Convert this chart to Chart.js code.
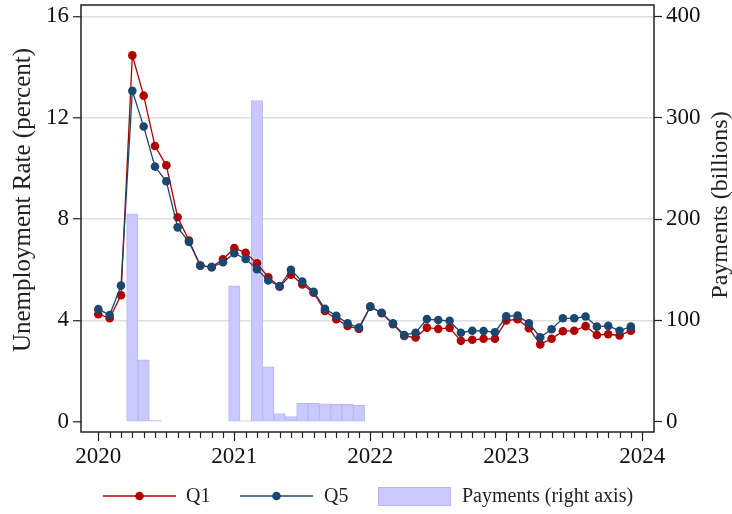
<!DOCTYPE html>
<html>
<head>
<meta charset="utf-8">
<script src="https://cdn.jsdelivr.net/npm/chart.js@4/dist/chart.umd.min.js"></script>
<style>
  html, body { margin: 0; padding: 0; background: #fff; }
  #wrap { width: 732px; height: 514px; }
</style>
</head>
<body>
<div id="wrap"><canvas id="c" width="732" height="514"></canvas></div>
<script>
// Monthly observations, Jan 2020 – Dec 2023
const months = [
  '2020-01','2020-02','2020-03','2020-04','2020-05','2020-06','2020-07','2020-08','2020-09','2020-10','2020-11','2020-12',
  '2021-01','2021-02','2021-03','2021-04','2021-05','2021-06','2021-07','2021-08','2021-09','2021-10','2021-11','2021-12',
  '2022-01','2022-02','2022-03','2022-04','2022-05','2022-06','2022-07','2022-08','2022-09','2022-10','2022-11','2022-12',
  '2023-01','2023-02','2023-03','2023-04','2023-05','2023-06','2023-07','2023-08','2023-09','2023-10','2023-11','2023-12'
];

// Unemployment rate (percent), lowest income quintile
const q1 = [
  4.24, 4.08, 4.99, 14.46, 12.87, 10.88, 10.12, 8.07, 7.15, 6.16, 6.10, 6.41,
  6.85, 6.67, 6.25, 5.70, 5.33, 5.80, 5.42, 5.09, 4.37, 4.04, 3.78, 3.66,
  4.54, 4.28, 3.85, 3.38, 3.32, 3.71, 3.66, 3.70, 3.19, 3.23, 3.27, 3.27,
  3.99, 4.04, 3.69, 3.05, 3.27, 3.57, 3.59, 3.77, 3.42, 3.45, 3.40, 3.59
];

// Unemployment rate (percent), highest income quintile
const q5 = [
  4.44, 4.21, 5.37, 13.06, 11.65, 10.07, 9.49, 7.67, 7.09, 6.16, 6.10, 6.29,
  6.65, 6.42, 6.02, 5.57, 5.35, 5.99, 5.53, 5.13, 4.45, 4.18, 3.88, 3.71,
  4.54, 4.30, 3.88, 3.42, 3.51, 4.05, 4.01, 3.98, 3.51, 3.59, 3.58, 3.53,
  4.16, 4.19, 3.88, 3.33, 3.65, 4.08, 4.08, 4.15, 3.75, 3.78, 3.59, 3.75
];

// Payments (billions of dollars)
const payMonths = ['2020-04','2020-05','2020-06','2021-01','2021-02','2021-03','2021-04','2021-05','2021-06','2021-07','2021-08','2021-09','2021-10','2021-11','2021-12'];
const payments  = [205, 61, 1.5, 134, 1, 317, 54, 8, 5, 18, 18, 17.5, 17, 17, 16];

const yearTicks = [2020, 2021, 2022, 2023, 2024];
const rateTicks = [0, 4, 8, 12, 16];
const payTicks  = [0, 100, 200, 300, 400];

const RED = '#b00000';
const BLUE = '#1a476f';
const BAR_FILL = '#c9c9ff';
const BAR_EDGE = '#b6b6f4';
const SERIF = "'Liberation Serif', 'Times New Roman', serif";

// month label -> months since Jan 2020
const monthIndex = s => (parseInt(s.slice(0, 4), 10) - 2020) * 12 + parseInt(s.slice(5, 7), 10) - 1;

// Box around the plot, monthly x ticks, axis titles and the legend
const decorations = {
  id: 'decorations',
  afterDraw(chart) {
    const { ctx, chartArea: a } = chart;
    const xs = chart.scales.x;
    ctx.save();
    ctx.strokeStyle = '#222';
    ctx.lineWidth = 1.5;
    ctx.strokeRect(a.left, a.top, a.right - a.left, a.bottom - a.top);

    // month ticks, longer at each January
    ctx.lineWidth = 1.2;
    for (let m = 0; m <= 48; m++) {
      const px = Math.round(xs.getPixelForValue(m)) + 0.5;
      const len = (m % 12 === 0) ? 9 : 6;
      ctx.beginPath();
      ctx.moveTo(px, a.bottom);
      ctx.lineTo(px, a.bottom + len);
      ctx.stroke();
    }

    // axis titles
    ctx.fillStyle = '#222';
    ctx.textAlign = 'center';
    ctx.textBaseline = 'middle';
    ctx.font = `25px ${SERIF}`;
    ctx.save();
    ctx.translate(23, 200);
    ctx.rotate(-Math.PI / 2);
    ctx.fillText('Unemployment Rate (percent)', 0, 0);
    ctx.restore();
    ctx.font = `24px ${SERIF}`;
    ctx.save();
    ctx.translate(721, 205);
    ctx.rotate(-Math.PI / 2);
    ctx.fillText('Payments (billions)', 0, 0);
    ctx.restore();

    // legend
    const ly = 496;
    ctx.font = `20px ${SERIF}`;
    ctx.textAlign = 'left';
    const ds = chart.data.datasets;
    const lineItem = (d, x0, x1, tx) => {
      ctx.strokeStyle = d.borderColor;
      ctx.lineWidth = 1.3;
      ctx.beginPath();
      ctx.moveTo(x0, ly);
      ctx.lineTo(x1, ly);
      ctx.stroke();
      ctx.fillStyle = d.borderColor;
      ctx.beginPath();
      ctx.arc((x0 + x1) / 2, ly, 4.3, 0, Math.PI * 2);
      ctx.fill();
      ctx.fillStyle = '#222';
      ctx.fillText(d.label, tx, ly + 1);
    };
    lineItem(ds[1], 103, 176, 186);
    lineItem(ds[0], 240, 313, 324);
    ctx.fillStyle = ds[2].backgroundColor;
    ctx.strokeStyle = ds[2].borderColor;
    ctx.lineWidth = 1;
    ctx.fillRect(378, 487, 73, 19);
    ctx.strokeRect(378.5, 487.5, 72, 18);
    ctx.fillStyle = '#222';
    ctx.fillText(ds[2].label, 462, ly + 1);
    ctx.restore();
  }
};

const tickFont = { family: SERIF, size: 23 };

// keep the plot box fixed regardless of how far tick labels overhang it
const fixVertical = w => s => { s.width = w; s.paddingTop = 0; s.paddingBottom = 0; };

new Chart(document.getElementById('c'), {
  type: 'bar',
  data: {
    datasets: [
      {
        type: 'line', label: 'Q5', yAxisID: 'y', order: 0,
        data: months.map((m, i) => ({ x: monthIndex(m), y: q5[i] })),
        borderColor: BLUE, backgroundColor: BLUE, borderWidth: 1.3,
        pointRadius: 4.3, pointBorderWidth: 0, pointBackgroundColor: BLUE, tension: 0
      },
      {
        type: 'line', label: 'Q1', yAxisID: 'y', order: 1,
        data: months.map((m, i) => ({ x: monthIndex(m), y: q1[i] })),
        borderColor: RED, backgroundColor: RED, borderWidth: 1.3,
        pointRadius: 4.3, pointBorderWidth: 0, pointBackgroundColor: RED, tension: 0
      },
      {
        type: 'bar', label: 'Payments (right axis)', yAxisID: 'y2', order: 2,
        data: payMonths.map((m, i) => ({ x: monthIndex(m), y: payments[i] })),
        backgroundColor: BAR_FILL, borderColor: BAR_EDGE, borderWidth: 1,
        borderSkipped: false, barPercentage: 1, categoryPercentage: 1
      }
    ]
  },
  options: {
    responsive: false,
    animation: false,
    devicePixelRatio: 1,
    layout: { padding: { top: 5, left: 0, right: 0, bottom: 0 } },
    plugins: { legend: { display: false }, tooltip: { enabled: false } },
    scales: {
      x: {
        type: 'linear', position: 'bottom', min: -1.53, max: 49.04, offset: false,
        afterFit: s => { s.height = 82; s.paddingLeft = 0; s.paddingRight = 0; },
        afterBuildTicks: s => { s.ticks = yearTicks.map(y => ({ value: (y - 2020) * 12 })); },
        ticks: {
          autoSkip: false, maxRotation: 0, padding: 11, color: '#111', font: tickFont,
          callback: v => String(2020 + Math.round(v / 12))
        },
        grid: { display: false, drawTicks: false },
        border: { display: false }
      },
      y: {
        position: 'left', min: -0.41, max: 16.45,
        afterFit: fixVertical(81),
        afterBuildTicks: s => { s.ticks = rateTicks.map(v => ({ value: v })); },
        ticks: { padding: 4, color: '#111', font: tickFont },
        grid: {
          color: c => (c.tick && c.tick.value === 0) ? 'rgba(0,0,0,0)' : '#dedede',
          lineWidth: 1.5, tickColor: '#222', tickLength: 8, tickWidth: 1.2
        },
        border: { display: false }
      },
      y2: {
        position: 'right', min: -10.25, max: 411.25,
        afterFit: fixVertical(78),
        afterBuildTicks: s => { s.ticks = payTicks.map(v => ({ value: v })); },
        ticks: { padding: 4, color: '#111', font: tickFont },
        grid: { drawOnChartArea: false, tickColor: '#222', tickLength: 8, tickWidth: 1.2 },
        border: { display: false }
      }
    }
  },
  plugins: [decorations]
});
</script>
</body>
</html>
